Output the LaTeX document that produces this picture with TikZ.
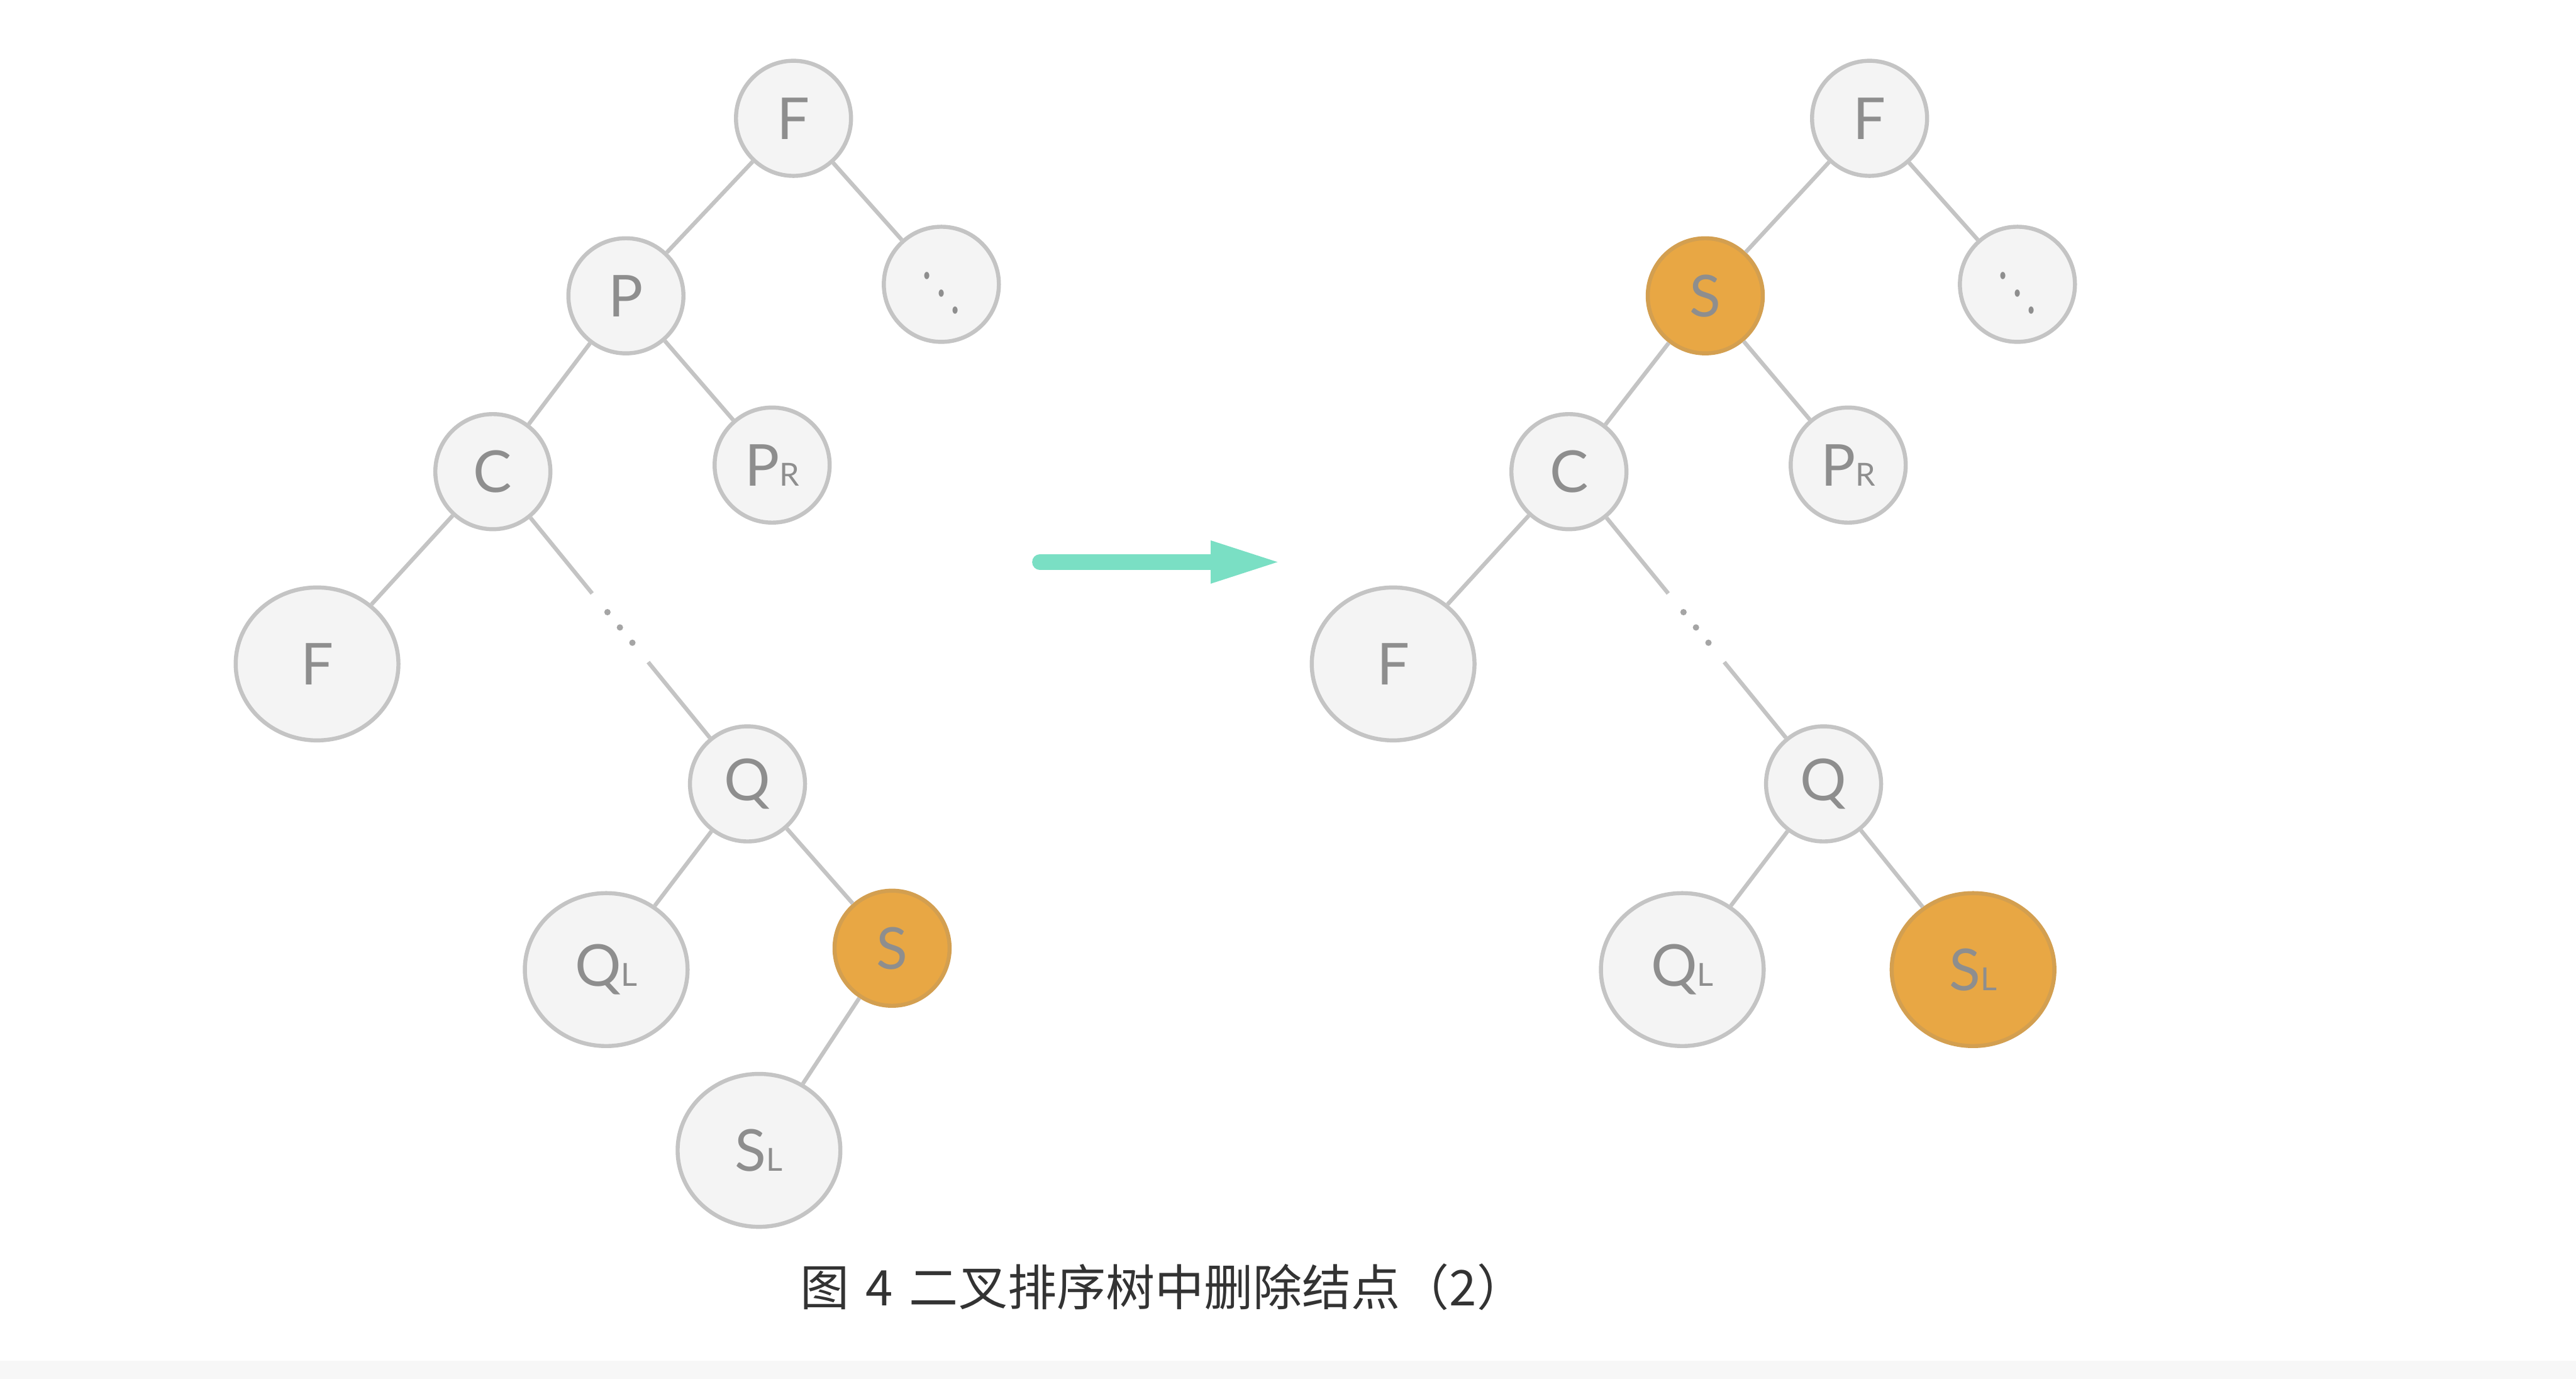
\documentclass[tikz,border=0pt]{standalone}
\usepackage{fontspec}
\setmainfont{Lato}
\newfontfamily\cjk{Noto Sans CJK SC}
\usetikzlibrary{arrows.meta,calc,shapes.geometric}
\definecolor{nodefill}{HTML}{F4F4F4}
\definecolor{nodeline}{HTML}{C4C4C4}
\definecolor{labelgray}{HTML}{8E8E8E}
\definecolor{pick}{HTML}{E8A744}
\definecolor{mint}{HTML}{7ADFC4}
\definecolor{stripgray}{HTML}{F7F7F7}
\definecolor{captiongray}{HTML}{333333}
\newcommand{\lowsub}[1]{{\fontsize{5.5}{6}\selectfont #1}}
\newcommand{\moredots}{\raisebox{3pt}{\scalebox{0.7}[1.0]{\fontsize{10}{10}\selectfont$\ddots$}}}
\tikzset{
  treenode/.style={
    circle,
    draw=nodeline,
    fill=nodefill,
    line width=0.7pt,
    minimum size=0.70cm,
    inner sep=0pt,
    text=labelgray,
    font=\fontsize{10}{12}\selectfont
  },
  leafnode/.style={
    treenode,
    ellipse,
    minimum width=0.99cm,
    minimum height=0.93cm
  },
  picknode/.style={fill=pick, draw=pick!80!gray},
  treeedge/.style={draw=nodeline, line width=0.7pt},
  gapdots/.style={draw=labelgray!80, line width=1.1pt, line cap=round, dash pattern=on 0pt off 0.12cm},
  steparrow/.style={-{Triangle[length=4.4mm,width=2.3mm]}, draw=mint, line width=2.7pt, line cap=round}
}

\begin{document}
\begin{tikzpicture}[x=0.01cm,y=-0.01cm]
  \useasboundingbox (0,0) rectangle (1568,839);
  \fill[white] (0,0) rectangle (1568,839);
  \fill[stripgray] (0,828) rectangle (1568,839);

  % left tree
  \node[treenode] (lroot) at (483,72) {F};
  \node[treenode] (lp) at (381,180) {P};
  \node[treenode] (lmore) at (573,173) {\moredots};
  \node[treenode] (lc) at (300,287) {C};
  \node[treenode] (lpr) at (470,283) {P\lowsub{R}};
  \node[leafnode] (lf) at (193,404) {F};
  \node[treenode] (lq) at (455,477) {Q};
  \node[leafnode] (lql) at (369,590) {Q\lowsub{L}};
  \node[treenode,picknode] (ls) at (543,577) {S};
  \node[leafnode] (lsl) at (462,700) {S\lowsub{L}};

  \draw[treeedge] (lroot) -- (lp);
  \draw[treeedge] (lroot) -- (lmore);
  \draw[treeedge] (lp) -- (lc);
  \draw[treeedge] (lp) -- (lpr);
  \draw[treeedge] (lc) -- (lf);
  \draw[treeedge] (lc) -- ($(lc)!0.39!(lq)$);
  \draw[gapdots] ($(lc)!0.45!(lq)$) -- ($(lc)!0.55!(lq)$);
  \draw[treeedge] ($(lc)!0.61!(lq)$) -- (lq);
  \draw[treeedge] (lq) -- (lql);
  \draw[treeedge] (lq) -- (ls);
  \draw[treeedge] (ls) -- (lsl);

  % step arrow
  \coordinate (arrowstart) at (633,342);
  \coordinate (arrowend) at (781,342);
  \draw[steparrow] (arrowstart) -- (arrowend);

  % right tree
  \node[treenode] (rroot) at (1138,72) {F};
  \node[treenode,picknode] (rs) at (1038,180) {S};
  \node[treenode] (rmore) at (1228,173) {\moredots};
  \node[treenode] (rc) at (955,287) {C};
  \node[treenode] (rpr) at (1125,283) {P\lowsub{R}};
  \node[leafnode] (rf) at (848,404) {F};
  \node[treenode] (rq) at (1110,477) {Q};
  \node[leafnode] (rql) at (1024,590) {Q\lowsub{L}};
  \node[leafnode,picknode] (rsl) at (1201,590) {S\lowsub{L}};

  \draw[treeedge] (rroot) -- (rs);
  \draw[treeedge] (rroot) -- (rmore);
  \draw[treeedge] (rs) -- (rc);
  \draw[treeedge] (rs) -- (rpr);
  \draw[treeedge] (rc) -- (rf);
  \draw[treeedge] (rc) -- ($(rc)!0.39!(rq)$);
  \draw[gapdots] ($(rc)!0.45!(rq)$) -- ($(rc)!0.55!(rq)$);
  \draw[treeedge] ($(rc)!0.61!(rq)$) -- (rq);
  \draw[treeedge] (rq) -- (rql);
  \draw[treeedge] (rq) -- (rsl);

  \node[font=\cjk\fontsize{8.5}{10}\selectfont, text=captiongray] (caption) at (708,783) {图\,\,4\,\,二叉排序树中删除结点（2）};
\end{tikzpicture}
\end{document}
